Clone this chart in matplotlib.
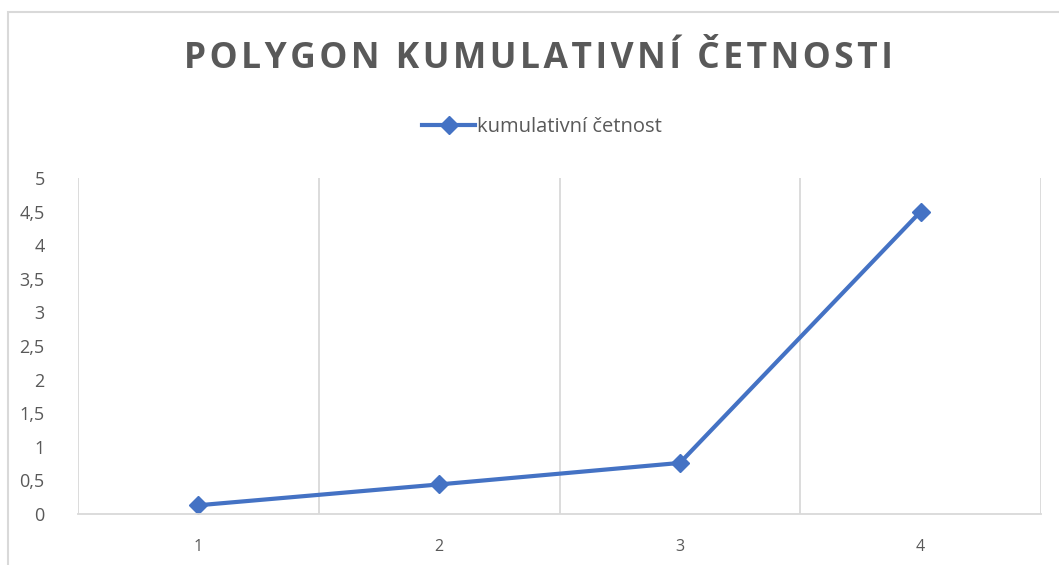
import matplotlib.pyplot as plt
from matplotlib.patches import Rectangle
from matplotlib.ticker import FuncFormatter

plt.rcParams['font.family'] = ['Open Sans', 'DejaVu Sans']

categories = ['1', '2', '3', '4']
cum_freq = [0.13, 0.44, 0.76, 4.5]
yticks = [0, 0.5, 1, 1.5, 2, 2.5, 3, 3.5, 4, 4.5, 5]
title = 'POLYGON KUMULATIVNÍ ČETNOSTI'

line_color = '#4472C4'
text_color = '#595959'
grid_color = '#d9d9d9'

fig = plt.figure(figsize=(10.59, 5.65), dpi=100)
ax = fig.add_axes([78 / 1059, 1 - 514 / 565, (1041 - 78) / 1059, (514 - 178) / 565])

x = range(1, len(categories) + 1)
ax.plot(x, cum_freq, color=line_color, lw=3, marker='D', markersize=9,
        label='kumulativní četnost')

ax.set_xlim(0.5, len(categories) + 0.5)
ax.set_ylim(0, 5)
ax.set_xticks(list(x))
ax.set_xticklabels(categories)
ax.set_yticks(yticks)
ax.yaxis.set_major_formatter(FuncFormatter(lambda v, p: f'{v:g}'.replace('.', ',')))

# vertical gridlines on category boundaries (excel style)
ax.set_xticks([i + 0.5 for i in range(0, len(categories) + 1)], minor=True)
ax.grid(True, which='minor', axis='x', color=grid_color, lw=1.3)
ax.tick_params(which='both', length=0)
ax.tick_params(axis='x', labelsize=11.5, colors=text_color, pad=18)
ax.tick_params(axis='y', labelsize=13, colors=text_color, pad=24)

for s in ['top', 'right', 'left']:
    ax.spines[s].set_visible(False)
ax.spines['bottom'].set_color(grid_color)
ax.spines['bottom'].set_linewidth(1.3)

# slight letter spacing with hair spaces
spaced = '\u200a'.join(title)
fig.text(538 / 1059, 1 - 59 / 565, spaced,
         ha='center', va='center', fontsize=25.5, fontweight='bold', color=text_color)

leg = fig.legend(loc='center', bbox_to_anchor=(542 / 1059, 1 - 127 / 565), frameon=False,
                 fontsize=14.5, handlelength=2.6, handletextpad=0.1)
for t in leg.get_texts():
    t.set_color(text_color)

# chart border (partially cropped in the reference)
fig.patches.append(Rectangle((8 / 1059, -0.1), 1.2, 1 - 12 / 565 + 0.1, transform=fig.transFigure,
                             fill=False, edgecolor=grid_color, lw=1.5))

fig.savefig('out.png', dpi=100)
